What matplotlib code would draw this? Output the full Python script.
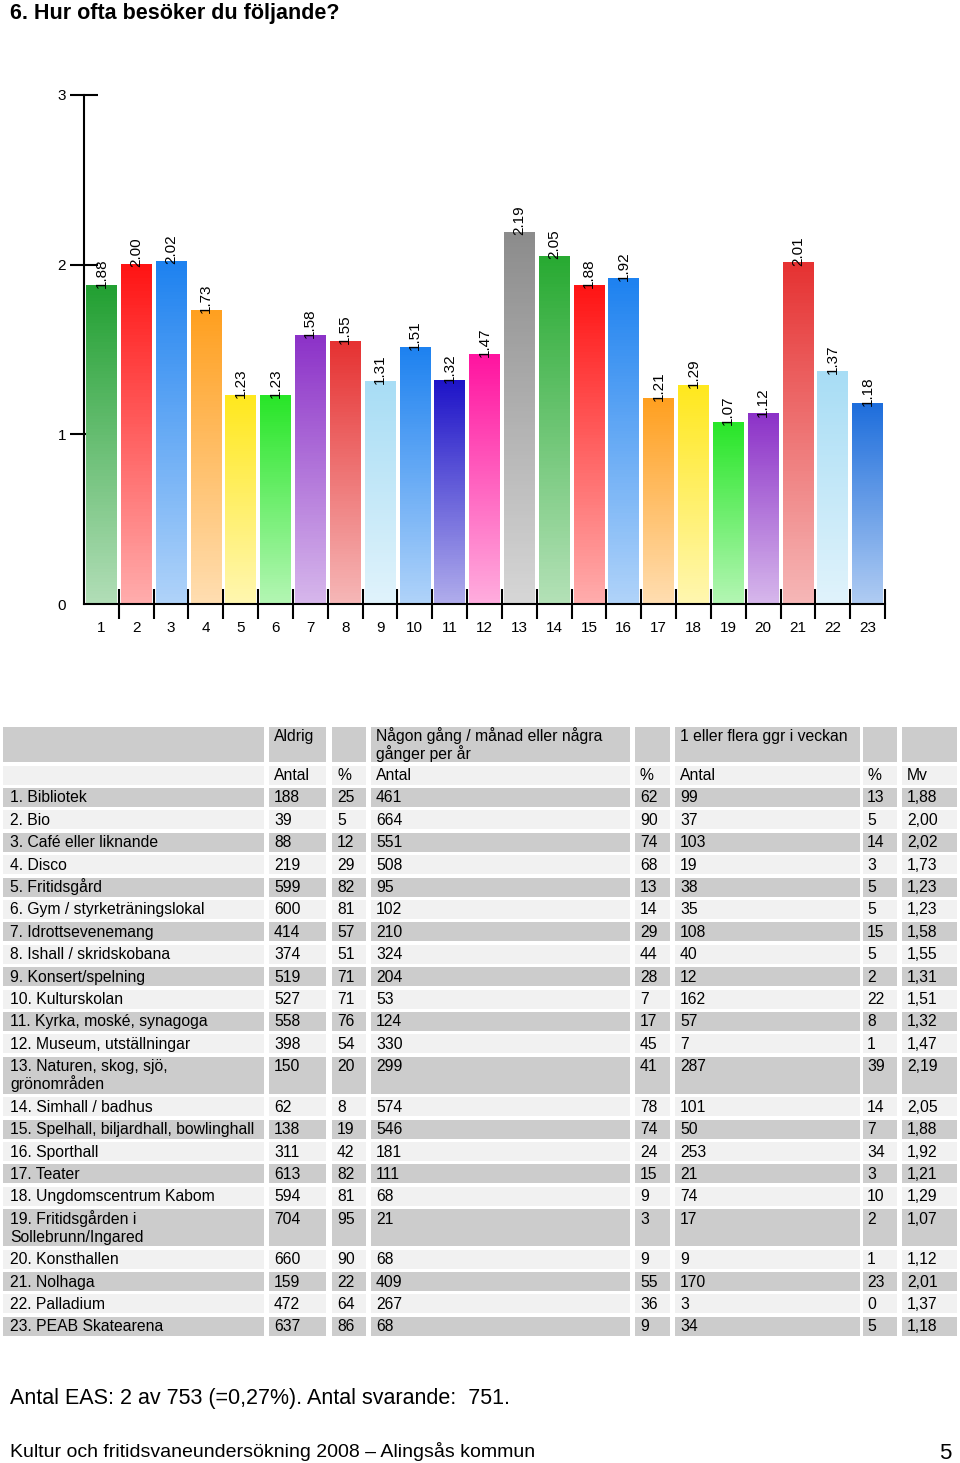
import numpy as np
import matplotlib
matplotlib.use("Agg")
import matplotlib.pyplot as plt
from matplotlib.patches import Rectangle
from matplotlib.colors import to_rgb

plt.rcParams['font.family'] = ['Liberation Sans', 'DejaVu Sans']

# Data
names = ["1. Bibliotek", "2. Bio", "3. Café eller liknande", "4. Disco",
         "5. Fritidsgård", "6. Gym / styrketräningslokal", "7. Idrottsevenemang",
         "8. Ishall / skridskobana", "9. Konsert/spelning", "10. Kulturskolan",
         "11. Kyrka, moské, synagoga", "12. Museum, utställningar",
         "13. Naturen, skog, sjö,\ngrönområden", "14. Simhall / badhus",
         "15. Spelhall, biljardhall, bowlinghall", "16. Sporthall", "17. Teater",
         "18. Ungdomscentrum Kabom", "19. Fritidsgården i\nSollebrunn/Ingared",
         "20. Konsthallen", "21. Nolhaga", "22. Palladium", "23. PEAB Skatearena"]
aldrig_n = [188, 39, 88, 219, 599, 600, 414, 374, 519, 527, 558, 398, 150, 62, 138, 311, 613, 594, 704, 660, 159, 472, 637]
aldrig_p = [25, 5, 12, 29, 82, 81, 57, 51, 71, 71, 76, 54, 20, 8, 19, 42, 82, 81, 95, 90, 22, 64, 86]
nagon_n = [461, 664, 551, 508, 95, 102, 210, 324, 204, 53, 124, 330, 299, 574, 546, 181, 111, 68, 21, 68, 409, 267, 68]
nagon_p = [62, 90, 74, 68, 13, 14, 29, 44, 28, 7, 17, 45, 41, 78, 74, 24, 15, 9, 3, 9, 55, 36, 9]
vecka_n = [99, 37, 103, 19, 38, 35, 108, 40, 12, 162, 57, 7, 287, 101, 50, 253, 21, 74, 17, 9, 170, 3, 34]
vecka_p = [13, 5, 14, 3, 5, 5, 15, 5, 2, 22, 8, 1, 39, 14, 7, 34, 3, 10, 2, 1, 23, 0, 5]
mv = [1.88, 2.00, 2.02, 1.73, 1.23, 1.23, 1.58, 1.55, 1.31, 1.51, 1.32, 1.47, 2.19,
      2.05, 1.88, 1.92, 1.21, 1.29, 1.07, 1.12, 2.01, 1.37, 1.18]

bar_colors = ["#22a032", "#ff1414", "#1e82f0", "#ffa020", "#ffe81e", "#28e628",
              "#8c32c8", "#e63232", "#a8ddf5", "#1e82f0", "#1e14c8", "#ff14a0",
              "#8c8c8c", "#28aa32", "#ff1414", "#1e82f0", "#ffa020", "#ffe81e",
              "#28e628", "#8c32c8", "#e63232", "#a8ddf5", "#1e6edc"]

header1 = ["", "Aldrig", "", "Någon gång / månad eller några\ngånger per år", "",
           "1 eller flera ggr i veckan", "", ""]
header2 = ["", "Antal", "%", "Antal", "%", "Antal", "%", "Mv"]

W, H = 960, 1463
fig = plt.figure(figsize=(W / 100, H / 100), dpi=100)

# background axes in pixel coords for title, table, footer
bg = fig.add_axes([0, 0, 1, 1])
bg.set_xlim(0, W)
bg.set_ylim(H, 0)
bg.axis('off')

bg.text(10, 19, "6. Hur ofta besöker du följande?", fontsize=15.5, fontweight='bold',
        ha='left', va='baseline')

# ---- chart ----
ax = fig.add_axes([84 / W, 1 - 604 / H, (885 - 84) / W, (604 - 95) / H])
n = len(mv)
xs = np.arange(1, n + 1)
bw = 0.88
for x, v, c in zip(xs, mv, bar_colors):
    top = np.array(to_rgb(c))
    bot = 0.35 * top + 0.65 * np.ones(3)
    t = np.linspace(0, 1, 100)[:, None]
    grad = (1 - t) * top + t * bot
    ax.imshow(grad[:, None, :], extent=[x - bw / 2, x + bw / 2, 0, v],
              aspect='auto', interpolation='nearest', origin='upper', zorder=2)
    ax.text(x, v - 0.015, f"{v:.2f}", rotation=90, ha='center', va='bottom',
            fontsize=11, zorder=3)

ax.set_xlim(0.5, n + 0.5)
ax.set_ylim(0, 3)
for s in ['top', 'right']:
    ax.spines[s].set_visible(False)
for s in ['left', 'bottom']:
    ax.spines[s].set_linewidth(1.5)

ax.set_yticks([0, 1, 2, 3])
ax.set_yticklabels(["0", "1", "2", "3"])
ax.tick_params(axis='y', which='major', direction='inout', length=20, width=1.5,
               labelsize=11, pad=3)
ax.yaxis.get_major_ticks()[0].tick1line.set_visible(False)

ax.set_xticks(xs)
ax.set_xticklabels([str(i) for i in xs])
ax.set_xticks(np.arange(1.5, n + 1, 1), minor=True)
ax.tick_params(axis='x', which='major', length=0, labelsize=11, pad=12)
ax.tick_params(axis='x', which='minor', direction='inout', length=21, width=1.5)

# ---- table ----
col_x = [(3, 264), (269, 326), (332, 366), (371, 630), (635, 670),
         (675, 860), (863, 897), (902, 957)]
pads = [7, 5, 5, 5, 5, 5, 4, 5]
dark = "#cccccc"
light = "#f1f1f1"
fs = 11.3


def draw_row(top, height, cells, color):
    for (x0, x1), p, txt in zip(col_x, pads, cells):
        bg.add_patch(Rectangle((x0, top), x1 - x0, height, facecolor=color,
                               edgecolor='none'))
        for k, line in enumerate(txt.split("\n")):
            bg.text(x0 + p, top + 14.5 + 18 * k, line, fontsize=fs,
                    ha='left', va='baseline')


draw_row(727, 35, header1, dark)
draw_row(766, 19, header2, light)

y = 788
for i in range(n):
    cells = [names[i], str(aldrig_n[i]), str(aldrig_p[i]), str(nagon_n[i]),
             str(nagon_p[i]), str(vecka_n[i]), str(vecka_p[i]),
             f"{mv[i]:.2f}".replace(".", ",")]
    extra = 18 * names[i].count("\n")
    draw_row(y, 19 + extra, cells, dark if i % 2 == 0 else light)
    y += 22.4 + extra

# ---- footer ----
bg.text(10, 1404, "Antal EAS: 2 av 753 (=0,27%). Antal svarande:  751.",
        fontsize=15.5, ha='left', va='baseline')
bg.text(10, 1457, "Kultur och fritidsvaneundersökning 2008 \u2013 Alingsås kommun",
        fontsize=14, ha='left', va='baseline')
bg.text(951, 1459, "5", fontsize=16, ha='right', va='baseline')

fig.savefig("out.png", dpi=100)
